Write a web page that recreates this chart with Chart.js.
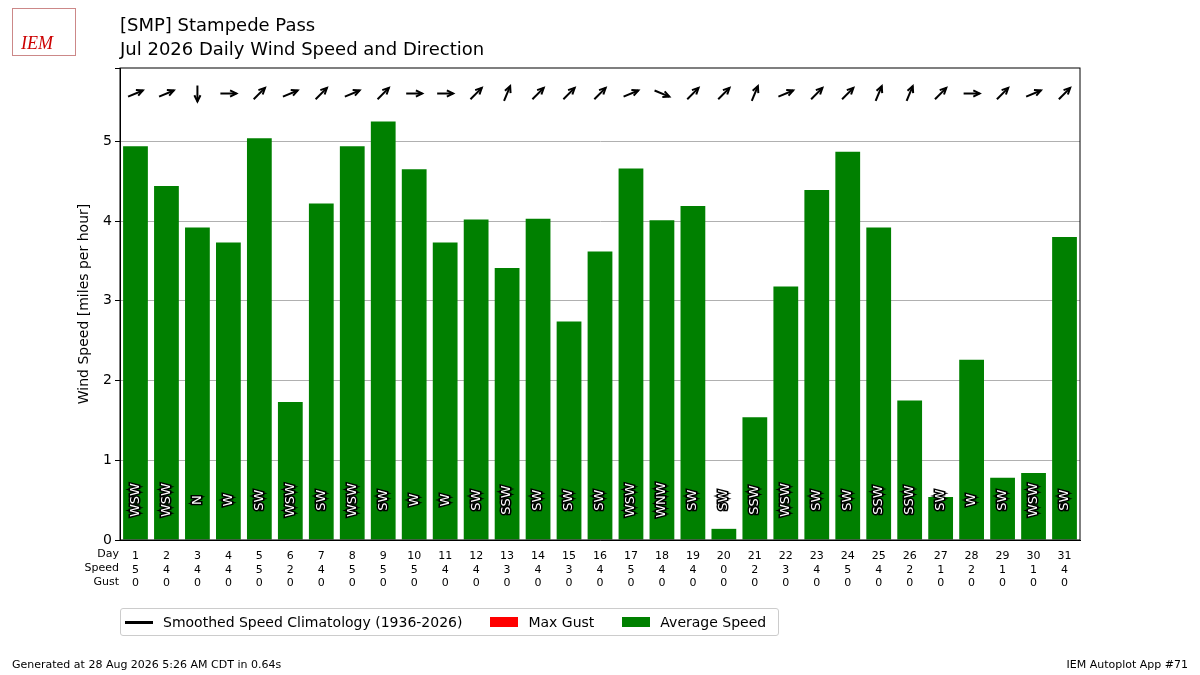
<!DOCTYPE html>
<html>
<head>
<meta charset="utf-8">
<script src="https://cdn.jsdelivr.net/npm/chart.js@4"></script>
<style>
  body { margin: 0; background: #fff; font-family: "DejaVu Sans", sans-serif; }
  #wrap { position: relative; width: 1200px; height: 675px; }
  canvas { position: absolute; left: 0; top: 0; }
  .t { position: absolute; color: #000; }
  #legend { position: absolute; left: 120px; top: 608px; height: 26px; width: 657px; border: 1px solid #ccc; border-radius: 3px; font-size: 14px; display: flex; align-items: center; white-space: nowrap; }
  .item { display: flex; align-items: center; margin-left: 4px; margin-right: 24px; flex-shrink: 0; }
  .sw { width: 28px; margin-right: 10px; }
</style>
</head>
<body>
<div id="wrap">
  <canvas id="c" width="1200" height="675"></canvas>
  <div class="t" style="left:12px;top:8px;width:64px;height:48px;border:1px solid #c88;color:#c00;font-family:serif;font-style:italic;font-size:18px;padding-top:24px;box-sizing:border-box;padding-left:8px;">IEM</div>
  <div class="t" style="left:120px;top:13px;font-size:18px;line-height:24px;">[SMP] Stampede Pass<br>Jul 2026 Daily Wind Speed and Direction</div>
  <div id="legend">
    <div class="item"><div class="sw" style="height:3px;background:#000"></div>Smoothed Speed Climatology (1936-2026)</div>
    <div class="item"><div class="sw" style="height:10px;background:#f00"></div>Max Gust</div>
    <div class="item"><div class="sw" style="height:10px;background:#008000"></div>Average Speed</div>
  </div>
  <div class="t" style="left:12px;top:658px;font-size:11px;">Generated at 28 Aug 2026 5:26 AM CDT in 0.64s</div>
  <div class="t" style="right:12px;top:658px;font-size:11px;">IEM Autoplot App #71</div>
</div>
<script>
const days = Array.from({length: 31}, (_, i) => String(i + 1));
const avgSpeed = [4.94, 4.44, 3.92, 3.73, 5.04, 1.73, 4.22, 4.94, 5.25, 4.65, 3.73, 4.02, 3.41, 4.03, 2.74, 3.62, 4.66, 4.01, 4.19, 0.14, 1.54, 3.18, 4.39, 4.87, 3.92, 1.75, 0.54, 2.26, 0.78, 0.84, 3.80];
const speedLabels = [5, 4, 4, 4, 5, 2, 4, 5, 5, 5, 4, 4, 3, 4, 3, 4, 5, 4, 4, 0, 2, 3, 4, 5, 4, 2, 1, 2, 1, 1, 4];
const gustLabels = Array(31).fill(0);
const dirNames = ['WSW','WSW','N','W','SW','WSW','SW','WSW','SW','W','W','SW','SSW','SW','SW','SW','WSW','WNW','SW','SW','SSW','WSW','SW','SW','SSW','SSW','SW','W','SW','WSW','SW'];
const compass = ['N','NNE','NE','ENE','E','ESE','SE','SSE','S','SSW','SW','WSW','W','WNW','NW','NNW'];

const overlay = {
  id: 'overlay',
  afterDatasetsDraw(chart) {
    const ctx = chart.ctx, x = chart.scales.x, y = chart.scales.y;
    const area = chart.chartArea;
    ctx.save();
    // frame
    ctx.strokeStyle = '#000';
    ctx.lineWidth = 1;
    ctx.strokeRect(area.left, area.top, area.right - area.left, area.bottom - area.top);
    // direction labels inside bars
    ctx.font = '13px "DejaVu Sans"';
    ctx.textAlign = 'center';
    ctx.textBaseline = 'middle';
    ctx.lineWidth = 3;
    ctx.fillStyle = '#fff';
    dirNames.forEach((d, i) => {
      ctx.save();
      ctx.translate(x.getPixelForValue(i), y.getPixelForValue(0.5));
      ctx.rotate(-Math.PI / 2);
      ctx.strokeText(d, 0, 0);
      ctx.fillText(d, 0, 0);
      ctx.restore();
    });
    // arrows at top (wind blows toward direction + 180)
    ctx.lineWidth = 2;
    dirNames.forEach((d, i) => {
      const from = compass.indexOf(d) * 22.5;
      const to = (from + 180) * Math.PI / 180;
      const dx = Math.sin(to), dy = -Math.cos(to);
      const cx = x.getPixelForValue(i), cy = y.getPixelForValue(5.6);
      const L = 8;
      const x1 = cx - dx * L, y1 = cy - dy * L, x2 = cx + dx * L, y2 = cy + dy * L;
      ctx.beginPath(); ctx.moveTo(x1, y1); ctx.lineTo(x2, y2); ctx.stroke();
      const a = Math.atan2(dy, dx);
      ctx.beginPath();
      ctx.moveTo(x2 - 7 * Math.cos(a - 0.45), y2 - 7 * Math.sin(a - 0.45));
      ctx.lineTo(x2, y2);
      ctx.lineTo(x2 - 7 * Math.cos(a + 0.45), y2 - 7 * Math.sin(a + 0.45));
      ctx.stroke();
    });
    // row labels
    ctx.font = '11px "DejaVu Sans"';
    ctx.fillStyle = '#000';
    ctx.textAlign = 'right';
    ctx.textBaseline = 'top';
    const by = area.bottom + 9;
    ['Day', 'Speed', 'Gust'].forEach((t, k) => ctx.fillText(t, 119, by + k * 14));
    ctx.restore();
  }
};

new Chart(document.getElementById('c'), {
  type: 'bar',
  data: {
    labels: days,
    datasets: [
      { label: 'Average Speed', data: avgSpeed, backgroundColor: '#008000', categoryPercentage: 1, barPercentage: 0.8 }
    ]
  },
  options: {
    responsive: false,
    animation: false,
    layout: { padding: { left: 76, right: 120, top: 68, bottom: 85 } },
    plugins: { legend: { display: false }, tooltip: { enabled: false } },
    scales: {
      x: {
        border: { color: '#000' },
        grid: { display: false, drawTicks: true },
        ticks: {
          color: '#000', font: { size: 11, family: 'DejaVu Sans' }, maxRotation: 0, autoSkip: false, padding: 2,
          callback: (v, i) => [days[i], String(speedLabels[i]), String(gustLabels[i])]
        },
        afterFit: s => { s.height = 50; }
      },
      y: {
        min: 0, max: 5.92,
        title: { display: true, text: 'Wind Speed [miles per hour]', color: '#000', font: { size: 14, family: 'DejaVu Sans' }, padding: 0 },
        border: { color: '#000' },
        grid: { color: (c) => (c.tick.value === 0 || c.tick.value % 1 !== 0) ? 'rgba(0,0,0,0)' : '#b0b0b0', tickColor: '#000', tickLength: 5 },
        ticks: { stepSize: 1, color: '#000', font: { size: 14, family: 'DejaVu Sans' }, callback: v => v % 1 === 0 ? v : '' },
        afterFit: s => { s.width = 44; }
      }
    }
  },
  plugins: [overlay]
});
</script>
</body>
</html>
